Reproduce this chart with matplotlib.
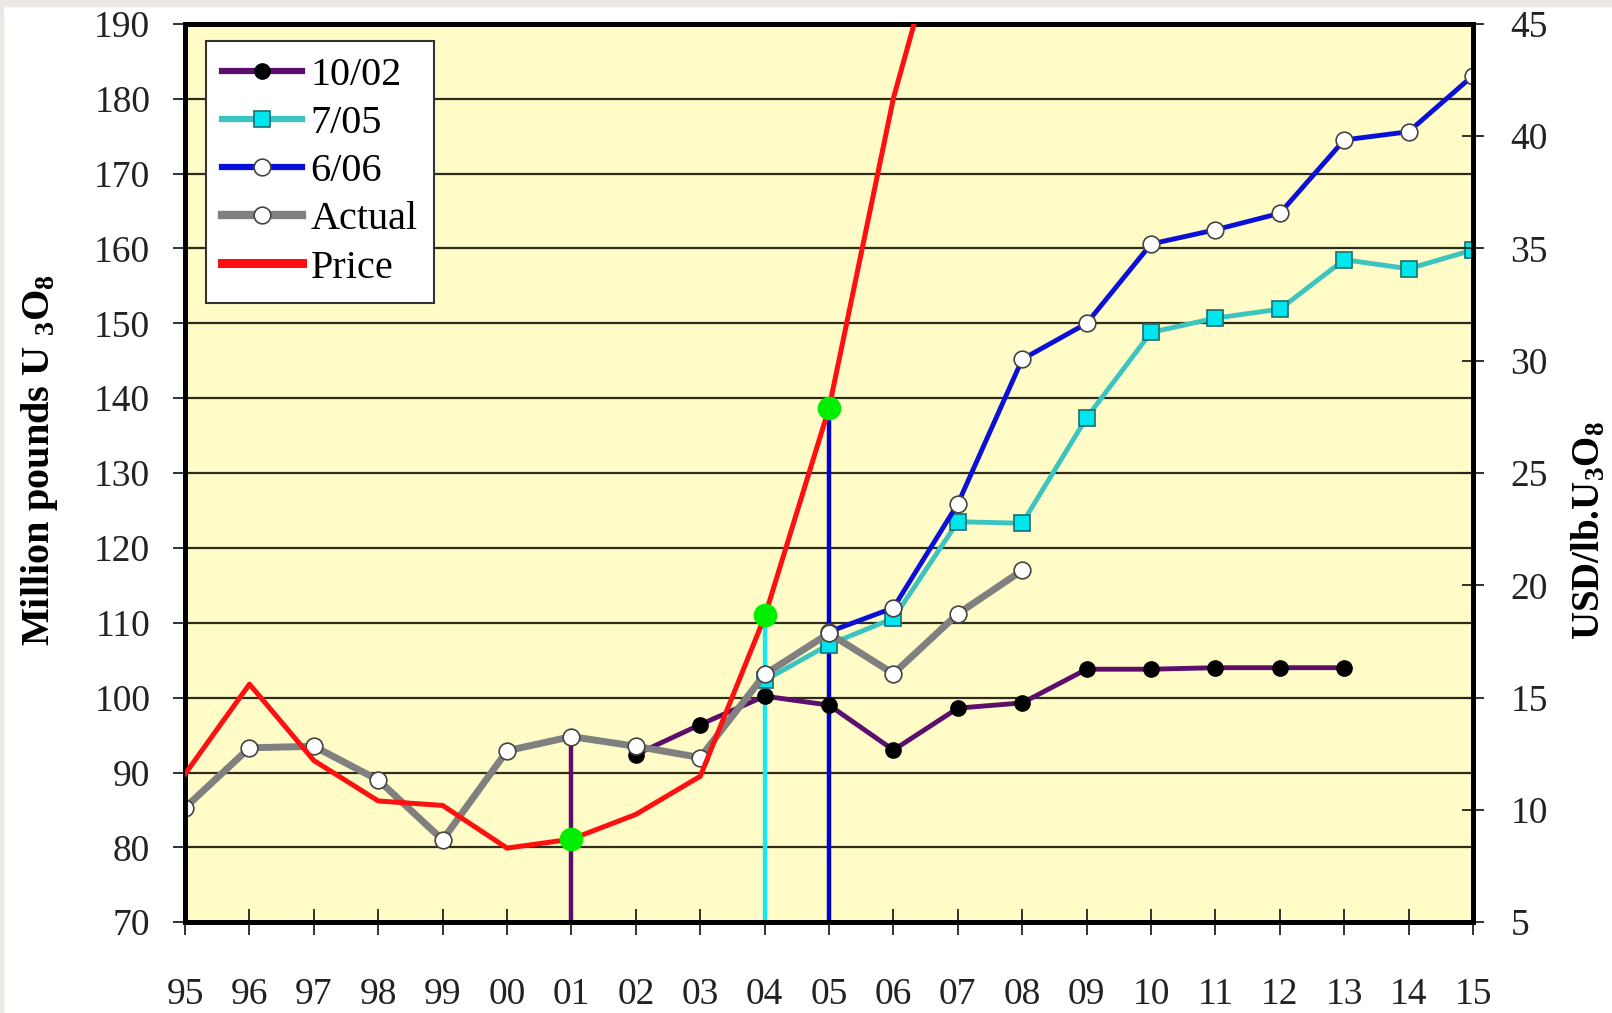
import matplotlib
matplotlib.use('Agg')
import matplotlib.pyplot as plt
from matplotlib.patches import Rectangle

plt.rcParams['font.family'] = ['Liberation Serif', 'DejaVu Serif']
plt.rcParams['mathtext.fontset'] = 'custom'
plt.rcParams['mathtext.rm'] = 'Liberation Serif:bold'
plt.rcParams['mathtext.it'] = 'Liberation Serif:bold'
plt.rcParams['mathtext.bf'] = 'Liberation Serif:bold'

# x axis: years 1995..2015
years = list(range(1995, 2016))
year_labels = ['95', '96', '97', '98', '99', '00', '01', '02', '03', '04', '05',
               '06', '07', '08', '09', '10', '11', '12', '13', '14', '15']

# demand forecasts, million pounds U3O8 (left axis)
f1002_years = list(range(2002, 2014))
f1002 = [92.4, 96.4, 100.2, 99.0, 93.0, 98.6, 99.3, 103.8, 103.8, 104.0, 104.0, 104.0]

f0705_years = list(range(2004, 2016))
f0705 = [102.3, 107.1, 110.6, 123.5, 123.3, 137.4, 148.8, 150.7, 151.9, 158.5, 157.3, 159.8]

f0606_years = list(range(2005, 2016))
f0606 = [108.8, 112.0, 125.9, 145.2, 150.0, 160.6, 162.5, 164.7, 174.5, 175.6, 183.1]

actual_years = list(range(1995, 2009))
actual = [85.3, 93.3, 93.5, 89.0, 81.0, 92.9, 94.8, 93.5, 92.0, 103.1, 108.6, 103.2, 111.2, 117.0]

# spot price, USD/lb U3O8 (right axis)
price_years = list(range(1995, 2008))
price = [11.6, 15.6, 12.2, 10.4, 10.2, 8.3, 8.7, 9.8, 11.5, 18.6, 27.9, 41.7, 52.0]

# forecast dates marked on the price curve
mark_years = [2001, 2004, 2005]
mark_price = [8.7, 18.7, 27.9]
mark_tops = [94.5, 111.0, 138.9]
mark_colors = ['#5c0e6b', '#19e6f5', '#0000d0']

fig = plt.figure(figsize=(16.12, 10.13), dpi=100)
# thin grey frame along the top and left edge of the picture
fig.patches.append(Rectangle((0, 0.994), 1, 0.006, transform=fig.transFigure,
                             color='#ece9e4', zorder=0))
fig.patches.append(Rectangle((0, 0), 0.002, 1, transform=fig.transFigure,
                             color='#ece9e4', zorder=0))

ax = fig.add_axes([0.1148, 0.0896, 0.799, 0.8868])
ax.set_facecolor('#fffcc8')
ax2 = ax.twinx()

for x, top, c in zip(mark_years, mark_tops, mark_colors):
    ax.vlines(x, 70, top, color=c, lw=3.2, zorder=1.5)

l1, = ax.plot(f1002_years, f1002, color='#5c0e6b', lw=3.5, marker='o', ms=11,
              mfc='black', mec='black', label='10/02', zorder=2)
l2, = ax.plot(f0705_years, f0705, color='#3cc4c0', lw=3.5, marker='s', ms=11,
              mfc='#00e6ee', mec='#1a6e6e', mew=1.2, label='7/05', zorder=3)
l3, = ax.plot(f0606_years, f0606, color='#0a10d8', lw=3.5, marker='o', ms=12,
              mfc='white', mec='#444444', mew=1.2, label='6/06', zorder=4)
l4, = ax.plot(actual_years, actual, color='#808080', lw=5, marker='o', ms=12,
              mfc='white', mec='#444444', mew=1.2, label='Actual', zorder=5)

l5, = ax2.plot(price_years, price, color='#ff1010', lw=3.6, label='Price', zorder=3)
ax2.plot(mark_years, mark_price, 'o', color='#00ee00', ms=16, zorder=4)

ax.set_xlim(1995, 2015)
ax.set_ylim(70, 190)
ax2.set_ylim(5, 45)
ax.set_xticks(years)
ax.set_xticklabels(year_labels)
ax.set_yticks(range(70, 191, 10))
ax2.set_yticks(range(5, 46, 5))

ax.yaxis.grid(True, color='#2e2c1c', lw=1.6)
ax.set_axisbelow(True)

ax.tick_params(axis='x', direction='inout', length=19, width=1.3, pad=30,
               labelsize=27, colors='#222222')
ax.tick_params(axis='y', direction='out', length=9, width=1.3, pad=16,
               labelsize=27, colors='#222222')
ax2.tick_params(axis='y', direction='inout', length=16, width=1.3, pad=19,
                labelsize=27, colors='#222222')

for a in (ax, ax2):
    for s in a.spines.values():
        s.set_linewidth(3.5)
        s.set_color('black')

ax.set_ylabel('Million pounds U $_3$O$_8$', fontsize=29, fontweight='bold')
ax.yaxis.set_label_coords(-0.097, 0.515)
ax2.set_ylabel('USD/lb.U$_3$O$_8$', fontsize=28, fontweight='bold')
ax2.yaxis.set_label_coords(1.076, 0.436)

leg = ax2.legend(handles=[l1, l2, l3, l4, l5], loc='upper left',
                 bbox_to_anchor=(0.016, 0.981), borderaxespad=0,
                 fontsize=29, frameon=True, fancybox=False,
                 handlelength=2.0, handletextpad=0.2, labelspacing=0.27,
                 borderpad=0.4)
leg.get_frame().set_edgecolor('#333333')
leg.get_frame().set_linewidth(1.5)
leg.get_frame().set_facecolor('white')
leg.get_frame().set_alpha(1)
for h, w in zip(leg.get_lines(), [4.5, 4.5, 4.5, 6, 6.5]):
    h.set_linewidth(w)

fig.savefig('out.png', dpi=100)
